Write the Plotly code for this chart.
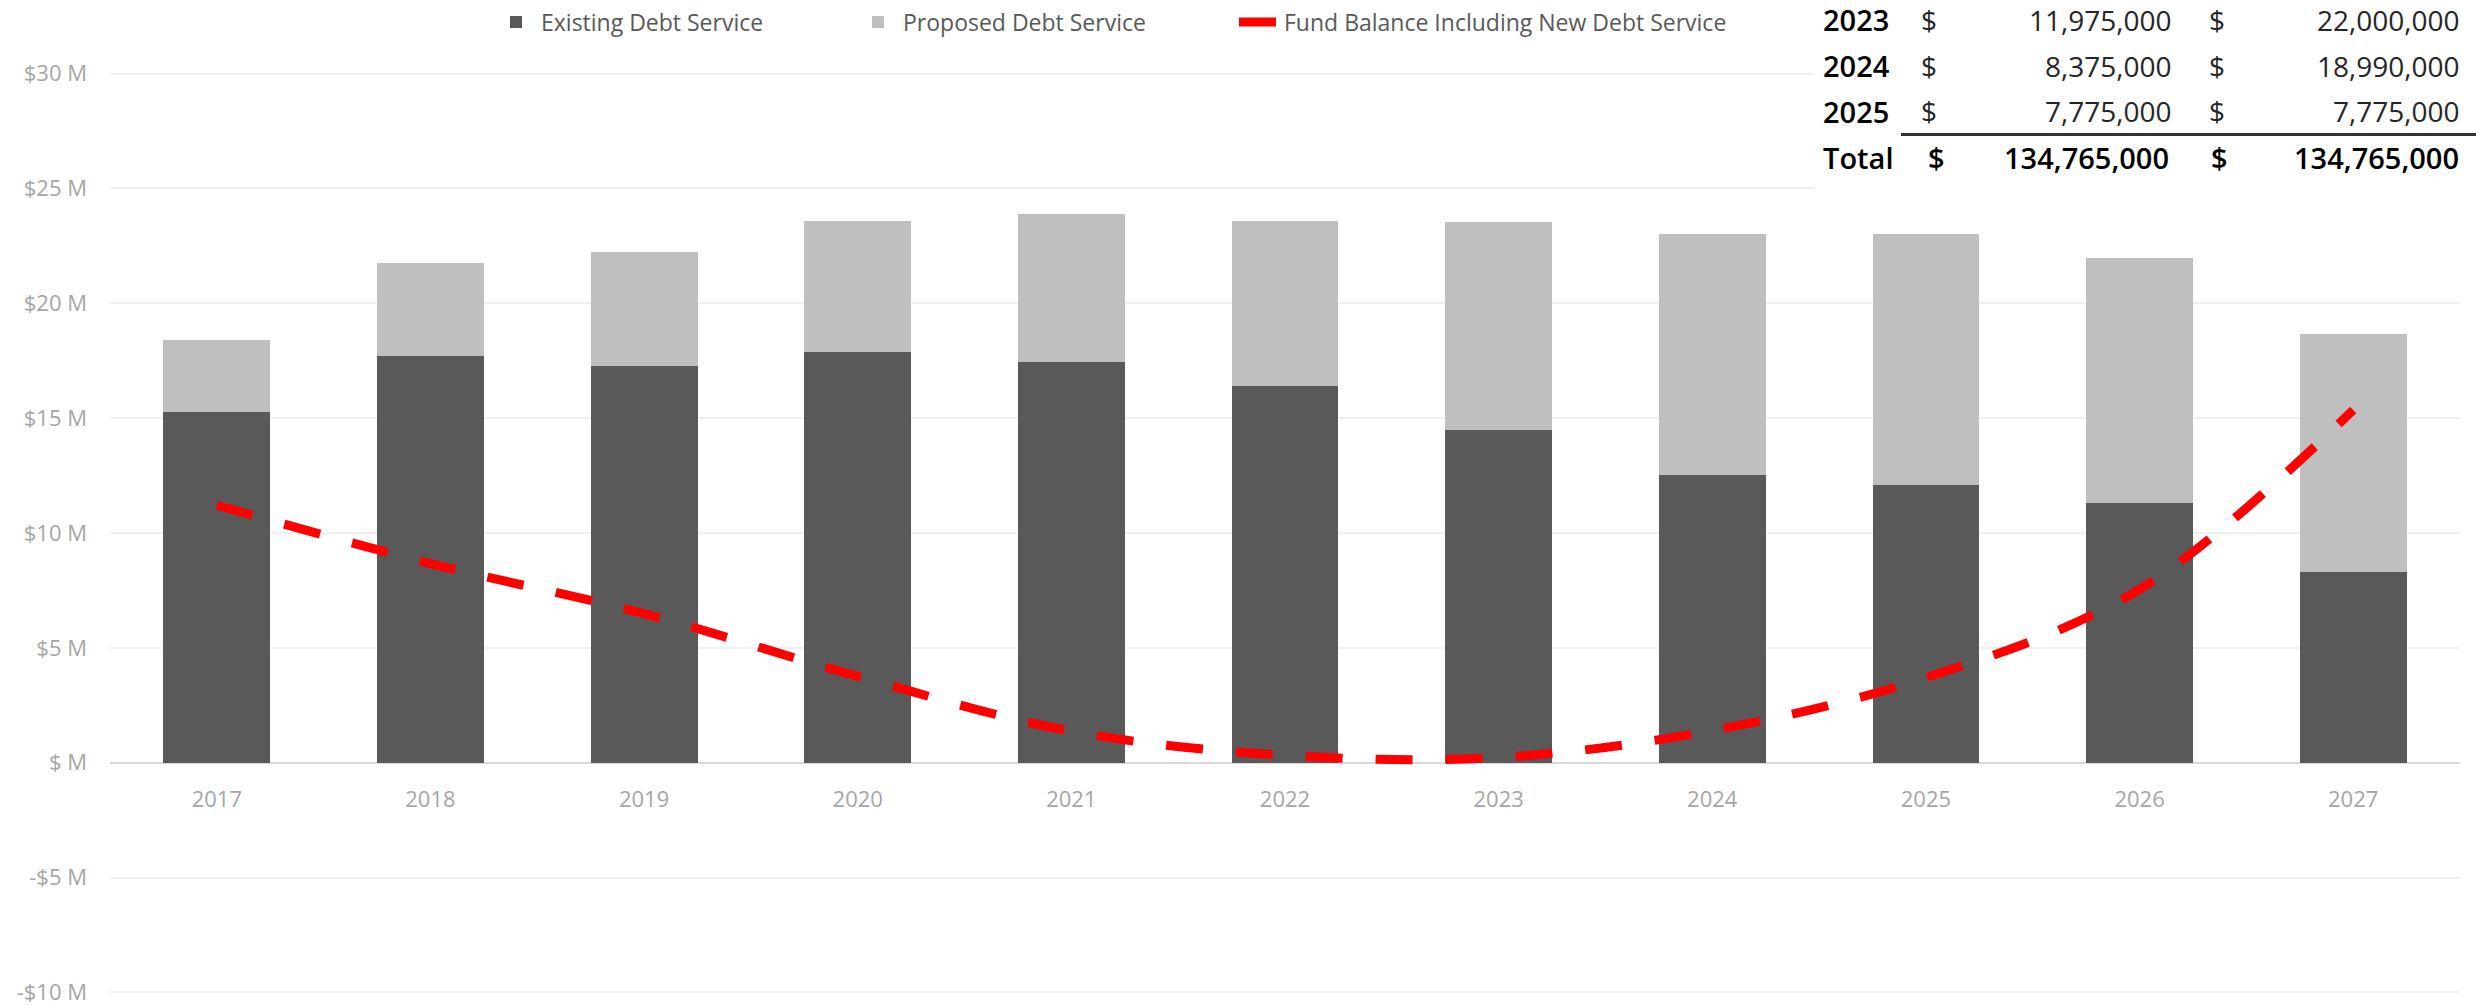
import plotly.graph_objects as go

# ---- data (values in $ millions) ----
years = ["2017", "2018", "2019", "2020", "2021", "2022", "2023", "2024", "2025", "2026", "2027"]
existing_debt = [15.25, 17.69, 17.25, 17.88, 17.43, 16.38, 14.50, 12.53, 12.09, 11.31, 8.29]
proposed_debt = [3.15, 4.07, 4.99, 5.71, 6.45, 7.20, 9.03, 10.50, 10.94, 10.67, 10.38]
fund_balance = [11.21, 8.67, 6.49, 3.76, 1.37, 0.32, 0.23, 1.40, 3.70, 7.55, 15.35]

y_tick_vals = [-10, -5, 0, 5, 10, 15, 20, 25, 30]
y_tick_text = ["-$10 M", "-$5 M", "$ M", "$5 M", "$10 M", "$15 M", "$20 M", "$25 M", "$30 M"]
Y_MIN, Y_MAX = -10.07, 30.07

# summary table in the upper-right corner
table_years = ["2023", "2024", "2025"]
table_col1 = [11975000, 8375000, 7775000]
table_col2 = [22000000, 18990000, 7775000]
table_total1 = 134765000
table_total2 = 134765000

# ---- page geometry ----
W, H = 2476, 1005
ML, MR, MT, MB = 110, 16, 72, 11
PW, PH = W - ML - MR, H - MT - MB


def fx(px):
    return (px - ML) / PW


def fy(py):
    return (H - MB - py) / PH


FONT = "Open Sans"
TICK_GREY = "#a6a6a6"

fig = go.Figure()
fig.add_trace(go.Bar(x=years, y=existing_debt, name="Existing Debt Service", legend="legend",
                     marker=dict(color="#595959", line=dict(width=0))))
fig.add_trace(go.Bar(x=years, y=proposed_debt, name="Proposed Debt Service", legend="legend2",
                     marker=dict(color="#bfbfbf", line=dict(width=0))))
fig.add_trace(go.Scatter(x=years, y=fund_balance, mode="lines", legend="legend3",
                         name="Fund Balance Including New Debt Service",
                         line=dict(color="#ff0000", width=9, dash="37px,33px", shape="spline")))

# table: white backing panel, rule under the last row, and text cells
shapes = [
    dict(type="rect", xref="paper", yref="paper", x0=fx(1815), x1=fx(W), y0=fy(200), y1=fy(0),
         fillcolor="white", line=dict(width=0), layer="above"),
    dict(type="line", xref="paper", yref="paper", x0=fx(1901), x1=fx(W), y0=fy(134.5), y1=fy(134.5),
         line=dict(color="#333333", width=3), layer="above"),
]

annotations = []
row_y = [20, 66, 111]
total_y = 157


def cell(text, px, py, anchor, size, bold, color):
    annotations.append(dict(
        text=text, xref="paper", yref="paper", x=fx(px), y=fy(py),
        xanchor=anchor, yanchor="middle", showarrow=False,
        font=dict(family=FONT, size=size, color=color, weight=600 if bold else "normal"),
    ))


for yr, v1, v2, py in zip(table_years, table_col1, table_col2, row_y):
    cell(yr, 1821, py, "left", 29, True, "#000000")
    cell("$", 1919, py, "left", 28, False, "#262626")
    cell(f"{v1:,}", 2174, py, "right", 28, False, "#262626")
    cell("$", 2207, py, "left", 28, False, "#262626")
    cell(f"{v2:,}", 2462, py, "right", 28, False, "#262626")

cell("Total", 1821, total_y, "left", 29, True, "#000000")
cell("$", 1926, total_y, "left", 29, True, "#000000")
cell(f"{table_total1:,}", 2171, total_y, "right", 29, True, "#000000")
cell("$", 2209, total_y, "left", 29, True, "#000000")
cell(f"{table_total2:,}", 2461, total_y, "right", 29, True, "#000000")


def legend_box(text_left_px):
    return dict(
        orientation="h", x=fx(text_left_px - 51), xanchor="left", y=fy(22), yanchor="middle",
        font=dict(family=FONT, size=23, color="#595959"),
        itemwidth=40, bgcolor="rgba(0,0,0,0)",
    )


fig.update_layout(
    width=W, height=H,
    margin=dict(l=ML, r=MR, t=MT, b=MB, autoexpand=False),
    barmode="stack",
    bargap=0.5,
    plot_bgcolor="white",
    paper_bgcolor="white",
    font=dict(family=FONT, color=TICK_GREY),
    showlegend=True,
    legend=legend_box(542),
    legend2=legend_box(904),
    legend3=legend_box(1285),
    xaxis=dict(
        type="category", anchor="free", position=(0 - Y_MIN) / (Y_MAX - Y_MIN),
        showgrid=False, showline=False, ticks="", zeroline=False,
        tickfont=dict(family=FONT, size=22, color=TICK_GREY),
        ticklabelstandoff=21,
    ),
    yaxis=dict(
        range=[Y_MIN, Y_MAX], tickvals=y_tick_vals, ticktext=y_tick_text,
        showgrid=True, gridcolor="#f0f0f0", gridwidth=2,
        zeroline=True, zerolinecolor="#d9d9d9", zerolinewidth=2,
        showline=False, ticks="", ticklabeloverflow="allow",
        tickfont=dict(family=FONT, size=22, color=TICK_GREY),
        ticklabelstandoff=22,
    ),
    shapes=shapes,
    annotations=annotations,
)

fig.write_html("out.html")
